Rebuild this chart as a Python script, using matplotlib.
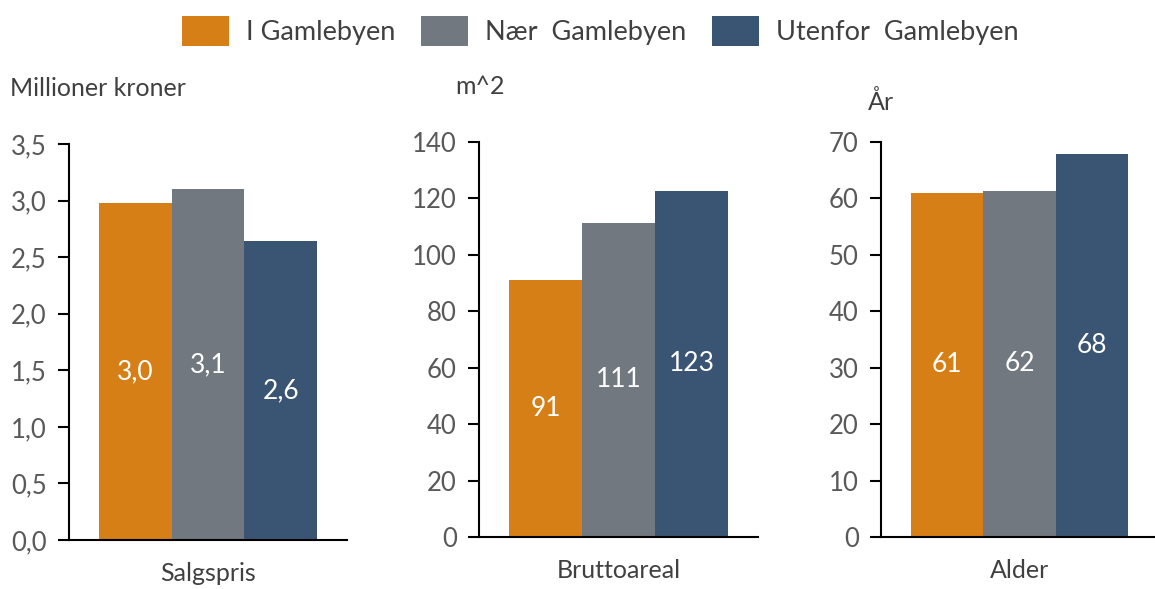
import matplotlib.pyplot as plt
from matplotlib.patches import Patch

plt.rcParams['font.family'] = ['Lato', 'DejaVu Sans']

# data
groups = ['I Gamlebyen', 'Nær  Gamlebyen', 'Utenfor  Gamlebyen']
colors = ['#D67F17', '#717880', '#3A5573']

categories = ['Salgspris', 'Bruttoareal', 'Alder']
units = ['Millioner kroner', 'm^2', 'År']

salgspris = [2.98, 3.10, 2.64]
bruttoareal = [91.2, 111.3, 122.8]
alder = [61.0, 61.4, 67.8]

salgspris_labels = ['3,0', '3,1', '2,6']
bruttoareal_labels = ['91', '111', '123']
alder_labels = ['61', '62', '68']

salgspris_ticks = [0, 0.5, 1.0, 1.5, 2.0, 2.5, 3.0, 3.5]
salgspris_ticklabels = ['0,0', '0,5', '1,0', '1,5', '2,0', '2,5', '3,0', '3,5']
bruttoareal_ticks = [0, 20, 40, 60, 80, 100, 120, 140]
alder_ticks = [0, 10, 20, 30, 40, 50, 60, 70]

W, H = 1155, 589
fig = plt.figure(figsize=(W / 100, H / 100), dpi=100)

# axes boxes in pixels: left, right, bottom, top
boxes = [(69, 347, 540, 144), (479, 758, 537, 142), (881, 1158, 537, 142)]
panels = [
    (salgspris, salgspris_labels, salgspris_ticks, salgspris_ticklabels),
    (bruttoareal, bruttoareal_labels, bruttoareal_ticks, [str(t) for t in bruttoareal_ticks]),
    (alder, alder_labels, alder_ticks, [str(t) for t in alder_ticks]),
]
unit_pos = [(10, 88), (455, 86), (868, 102)]

tick_color = '#595959'
text_color = '#404040'
xs = [-1, 0, 1]
for i, ((l, r, b, t), (vals, labs, ticks, ticklabs)) in enumerate(zip(boxes, panels)):
    ax = fig.add_axes([l / W, 1 - b / H, (r - l) / W, (b - t) / H])
    bars = ax.bar(xs, vals, width=1.0, color=colors)
    ax.bar_label(bars, labels=labs, label_type='center', color='white', fontsize=19)
    ax.set_xlim(-1.91, 1.91)
    ax.set_ylim(ticks[0], ticks[-1])
    ax.set_yticks(ticks)
    ax.set_yticklabels(ticklabs)
    ax.set_xticks([])
    ax.tick_params(axis='y', direction='out', length=8, width=1.5, color='black',
                   labelsize=18.5, labelcolor=tick_color, pad=8)
    for s in ['top', 'right']:
        ax.spines[s].set_visible(False)
    for s in ['left', 'bottom']:
        ax.spines[s].set_linewidth(1.5)
        ax.spines[s].set_color('black')
    ax.set_xlabel(categories[i], fontsize=18, color=text_color, labelpad=16)
    ux, uy = unit_pos[i]
    fig.text(ux / W, 1 - uy / H, units[i], fontsize=18, color=text_color,
             ha='left', va='center')

handles = [Patch(facecolor=c, edgecolor='none') for c in colors]
fig.legend(handles, groups, loc='center', bbox_to_anchor=(600 / W, 1 - 31 / H),
           ncol=3, frameon=False, fontsize=19.5, handlelength=1.73, handleheight=1.3,
           columnspacing=0.95, handletextpad=0.63, labelcolor=text_color)

fig.savefig('out.png', dpi=100)
